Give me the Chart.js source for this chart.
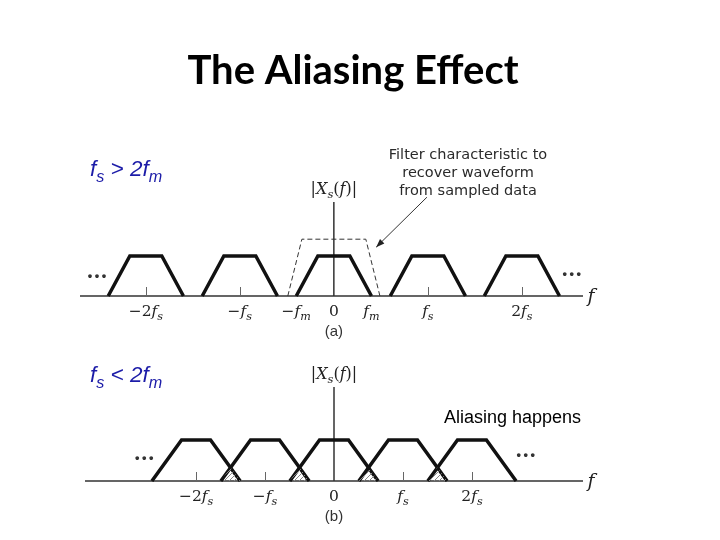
<!DOCTYPE html>
<html>
<head>
<meta charset="utf-8">
<script src="https://cdn.jsdelivr.net/npm/chart.js@4"></script>
<style>
  body { margin: 0; background: #fff; }
  #wrap { position: relative; width: 720px; height: 540px; }
  canvas { position: absolute; left: 0; }
</style>
</head>
<body>
<div id="wrap">
  <canvas id="chartA" width="720" height="340" style="top:0"></canvas>
  <canvas id="chartB" width="720" height="200" style="top:340px"></canvas>
</div>
<script>
// spectrum copies sit at multiples of fs
const shifts = [-2, -1, 0, 1, 2];

// (a) fs > 2fm : one spectrum copy, in units of fs
const specAX = [-0.40, -0.17, 0.17, 0.40];
const specAY = [0, 1, 1, 0];
const filterX = [-0.49, -0.34, 0.34, 0.49];
const filterY = [0, 1.42, 1.42, 0];
const ticksA = [-2, -1, -0.40, 0, 0.40, 1, 2];
const tickLabelsA = ["−2f_s", "−f_s", "−f_m", "0", "f_m", "f_s", "2f_s"];

// (b) fs < 2fm : copies overlap
const specBX = [-0.64, -0.21, 0.21, 0.64];
const specBY = [0, 1, 1, 0];
const aliasCenters = [-1.5, -0.5, 0.5, 1.5];
const aliasX = [-0.14, 0, 0.14];
const aliasY = [0, 0.33, 0];
const ticksB = [-2, -1, 0, 1, 2];
const tickLabelsB = ["−2f_s", "−f_s", "0", "f_s", "2f_s"];

const serif = "'DejaVu Serif', 'Liberation Serif', serif";
const sans = "'Liberation Sans', Arial, sans-serif";

function pts(xs, ys, dx) {
  return xs.map((x, i) => ({ x: x + dx, y: ys[i] }));
}

// hatch for the aliased areas
function hatch() {
  const c = document.createElement("canvas");
  c.width = 5; c.height = 5;
  const g = c.getContext("2d");
  g.strokeStyle = "#888";
  g.lineWidth = 1;
  g.beginPath();
  g.moveTo(0, 5); g.lineTo(5, 0);
  g.stroke();
  return g.createPattern(c, "repeat");
}

// text with italic letters and _x subscripts
function drawMath(ctx, str, x, y, size, opt) {
  opt = opt || {};
  const fam = opt.family || serif;
  const segs = [];
  for (let i = 0; i < str.length; i++) {
    if (str[i] === "_") { segs.push({ t: str[i + 1], sub: true }); i++; }
    else segs.push({ t: str[i], sub: false });
  }
  const fontOf = s => {
    const it = opt.allItalic || /[a-zA-Z]/.test(s.t) ? "italic " : "";
    return it + (opt.bold ? "bold " : "") + (s.sub ? size * 0.72 : size) + "px " + fam;
  };
  let w = 0;
  segs.forEach(s => { ctx.font = fontOf(s); s.w = ctx.measureText(s.t).width; w += s.w; });
  let cx = opt.align === "left" ? x : x - w / 2;
  ctx.fillStyle = opt.color || "#222";
  ctx.textAlign = "left";
  ctx.textBaseline = "alphabetic";
  segs.forEach(s => {
    ctx.font = fontOf(s);
    ctx.fillText(s.t, cx, y + (s.sub ? size * 0.28 : 0));
    cx += s.w;
  });
}

// per-chart extra text, kept outside the options (functions there are scriptable)
const extras = {
  chartA(ctx, x, y) {
    ctx.font = "bold 40px Lato, 'Open Sans', sans-serif";
    ctx.fillStyle = "#000";
    ctx.textAlign = "center";
    ctx.fillText("The Aliasing Effect", 353, 84);
    drawMath(ctx, "f_s > 2f_m", 90, 176, 22.5, { family: sans, allItalic: true, color: "#1c1ca8", align: "left" });
    ctx.font = "14.5px 'DejaVu Sans', sans-serif";
    ctx.fillStyle = "#2a2a2a";
    ctx.textAlign = "center";
    ["Filter characteristic to", "recover waveform", "from sampled data"]
      .forEach((t, i) => ctx.fillText(t, 468, 159 + i * 18));
    // arrow to the filter edge
    const x1 = x.getPixelForValue(0.99), y1 = y.getPixelForValue(2.47);
    const x2 = x.getPixelForValue(0.45), y2 = y.getPixelForValue(1.22);
    ctx.strokeStyle = "#333";
    ctx.lineWidth = 1;
    ctx.beginPath(); ctx.moveTo(x1, y1); ctx.lineTo(x2, y2); ctx.stroke();
    const a = Math.atan2(y2 - y1, x2 - x1);
    ctx.fillStyle = "#222";
    ctx.beginPath();
    ctx.moveTo(x2, y2);
    ctx.lineTo(x2 - 9 * Math.cos(a - 0.35), y2 - 9 * Math.sin(a - 0.35));
    ctx.lineTo(x2 - 9 * Math.cos(a + 0.35), y2 - 9 * Math.sin(a + 0.35));
    ctx.closePath(); ctx.fill();
  },
  chartB(ctx, x, y) {
    drawMath(ctx, "f_s < 2f_m", 90, 42, 22.5, { family: sans, allItalic: true, color: "#1c1ca8", align: "left" });
    ctx.font = "18px " + sans;
    ctx.fillStyle = "#000";
    ctx.textAlign = "left";
    ctx.fillText("Aliasing happens", 444, 83);
  }
};

const axes = {
  id: "axes",
  beforeDatasetsDraw(chart) {
    const ctx = chart.ctx, x = chart.scales.x, y = chart.scales.y;
    const o = chart.options.plugins.axes;
    const y0 = y.getPixelForValue(0);
    ctx.save();
    ctx.strokeStyle = "#333";
    ctx.lineWidth = 1.5;
    ctx.beginPath();
    ctx.moveTo(x.left, y0); ctx.lineTo(x.right, y0);
    ctx.moveTo(x.getPixelForValue(0), y0); ctx.lineTo(x.getPixelForValue(0), y.top);
    ctx.stroke();
    ctx.lineWidth = 1;
    ctx.strokeStyle = "#666";
    ctx.beginPath();
    o.marks.forEach(v => {
      const px = Math.round(x.getPixelForValue(v)) + 0.5;
      ctx.moveTo(px, y0); ctx.lineTo(px, y0 - 9);
    });
    ctx.stroke();
    ctx.restore();
  },
  afterDraw(chart) {
    const ctx = chart.ctx, x = chart.scales.x, y = chart.scales.y;
    const o = chart.options.plugins.axes;
    const y0 = y.getPixelForValue(0);
    ctx.save();
    o.ticks.forEach((v, i) => {
      drawMath(ctx, o.labels[i], x.getPixelForValue(v), y0 + 20, 15.5);
    });
    drawMath(ctx, "f", x.right + 8, y0 + 6, 19);
    drawMath(ctx, "|X_s(f)|", x.getPixelForValue(0), y.top - 8, 16);
    ctx.font = "15px " + sans;
    ctx.fillStyle = "#333";
    ctx.textAlign = "center";
    ctx.fillText(o.part, x.getPixelForValue(0), y0 + 40);
    ctx.font = "bold 20px " + serif;
    o.dots.forEach(d => ctx.fillText("···", x.getPixelForValue(d[0]), y.getPixelForValue(d[1])));
    const extra = extras[chart.canvas.id];
    if (extra) extra(ctx, x, y);
    ctx.restore();
  }
};

function copies(xs, ys) {
  return shifts.map(s => ({
    data: pts(xs, ys, s),
    borderColor: "#111",
    borderWidth: 3.5,
    borderJoinStyle: "miter",
    pointRadius: 0,
    fill: false,
    clip: false
  }));
}

function baseOptions(pad, xr, yr, plug) {
  return {
    responsive: false,
    animation: false,
    devicePixelRatio: 1,
    layout: { padding: pad },
    scales: {
      x: { type: "linear", min: xr[0], max: xr[1], display: false },
      y: { type: "linear", min: yr[0], max: yr[1], display: false }
    },
    plugins: { legend: { display: false }, tooltip: { enabled: false }, axes: plug }
  };
}

const dsA = copies(specAX, specAY);
dsA.push({
  data: pts(filterX, filterY, 0),
  borderColor: "#333",
  borderWidth: 1,
  borderDash: [5, 3],
  pointRadius: 0,
  fill: false,
  clip: false
});

new Chart(document.getElementById("chartA"), {
  type: "line",
  data: { datasets: dsA },
  plugins: [axes],
  options: baseOptions({ left: 80, right: 137, top: 202, bottom: 44 }, [-2.70, 2.65], [0, 2.35], {
    marks: [-2, -1, 1, 2],
    ticks: ticksA,
    labels: tickLabelsA,
    part: "(a)",
    dots: [[-2.52, 0.33], [2.53, 0.38]]
  })
});

const dsB = aliasCenters.map(c => ({
  data: pts(aliasX, aliasY, c),
  borderWidth: 0,
  borderColor: "rgba(0,0,0,0)",
  backgroundColor: hatch(),
  pointRadius: 0,
  fill: "origin",
  clip: false
})).concat(copies(specBX, specBY));

new Chart(document.getElementById("chartB"), {
  type: "line",
  data: { datasets: dsB },
  plugins: [axes],
  options: baseOptions({ left: 85, right: 137, top: 47, bottom: 59 }, [-3.61, 3.61], [0, 2.29], {
    marks: [-2, -1, 1, 2],
    ticks: ticksB,
    labels: tickLabelsB,
    part: "(b)",
    dots: [[-2.75, 0.4], [2.78, 0.47]]
  })
});
</script>
</body>
</html>
